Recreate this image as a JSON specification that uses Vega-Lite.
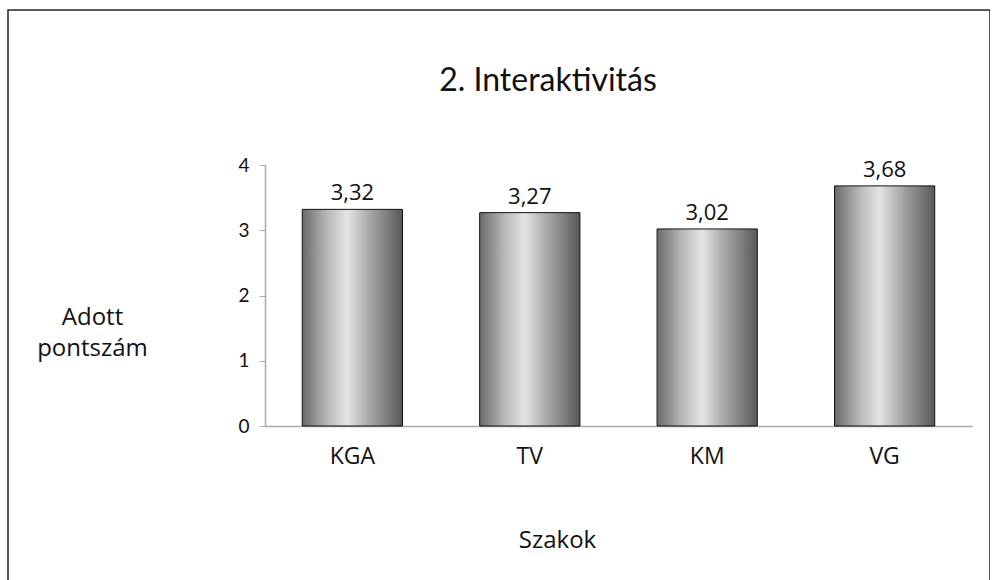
{
  "$schema": "https://vega.github.io/schema/vega-lite/v6.json",
  "width": 982,
  "height": 572,
  "padding": {"left": 8, "top": 10, "right": 0, "bottom": 0},
  "autosize": {"type": "none"},
  "background": "white",
  "config": {
    "view": {"stroke": "#222222", "strokeWidth": 1.5},
    "font": "Open Sans",
    "locale": {"number": {"decimal": ",", "thousands": " ", "grouping": [3], "currency": ["", ""]}}
  },
  "title": {
    "text": "2. Interaktivitás",
    "fontSize": 32,
    "font": "Lato",
    "fontWeight": "normal",
    "color": "#111111",
    "anchor": "middle",
    "frame": "group",
    "dx": 49,
    "dy": -42,
    "offset": -130
  },
  "data": {
    "values": [
      {"szak": "KGA", "pont": 3.32},
      {"szak": "TV", "pont": 3.27},
      {"szak": "KM", "pont": 3.02},
      {"szak": "VG", "pont": 3.68}
    ]
  },
  "encoding": {
    "x": {
      "field": "szak",
      "type": "nominal",
      "sort": null,
      "scale": {"range": [257, 964], "paddingInner": 0.435, "paddingOuter": 0.21},
      "axis": {
        "title": "Szakok",
        "titleFontSize": 24,
        "titleFontWeight": "normal",
        "titleColor": "#111111",
        "titleFont": "Open Sans",
        "titleBaseline": "alphabetic",
        "titleX": 549,
        "titleY": 121,
        "labelAngle": 0,
        "labelFontSize": 23,
        "labelColor": "#111111",
        "labelBaseline": "alphabetic",
        "labelPadding": 37,
        "ticks": false,
        "domainColor": "#aaaaaa",
        "domainWidth": 1.5,
        "offset": -156
      }
    },
    "y": {
      "field": "pont",
      "type": "quantitative",
      "scale": {"domain": [0, 4], "range": [416, 155], "nice": false, "zero": true},
      "axis": {
        "title": ["Adott", "pontszám"],
        "titleAngle": 0,
        "titleAlign": "center",
        "titleBaseline": "alphabetic",
        "titleFontSize": 24,
        "titleFontWeight": "normal",
        "titleColor": "#111111",
        "titleLineHeight": 31,
        "titleX": -173,
        "titleY": 314,
        "values": [0, 1, 2, 3, 4],
        "grid": false,
        "tickSize": 6,
        "tickColor": "#aaaaaa",
        "domainColor": "#aaaaaa",
        "domainWidth": 1.5,
        "labelFontSize": 19,
        "labelFont": "Lato",
        "labelColor": "#111111",
        "labelPadding": 10,
        "offset": -257
      }
    }
  },
  "layer": [
    {
      "mark": {
        "type": "bar",
        "stroke": "#111111",
        "strokeWidth": 1,
        "color": {
          "gradient": "linear",
          "x1": 0, "y1": 0, "x2": 1, "y2": 0,
          "stops": [
            {"offset": 0, "color": "#6a6a6a"},
            {"offset": 0.25, "color": "#b8b8b8"},
            {"offset": 0.45, "color": "#e4e4e4"},
            {"offset": 0.65, "color": "#adadad"},
            {"offset": 1, "color": "#585858"}
          ]
        }
      }
    },
    {
      "mark": {"type": "text", "baseline": "alphabetic", "dy": -9, "fontSize": 22, "color": "#111111"},
      "encoding": {
        "text": {"field": "pont", "type": "quantitative", "format": ".2f"}
      }
    }
  ]
}
